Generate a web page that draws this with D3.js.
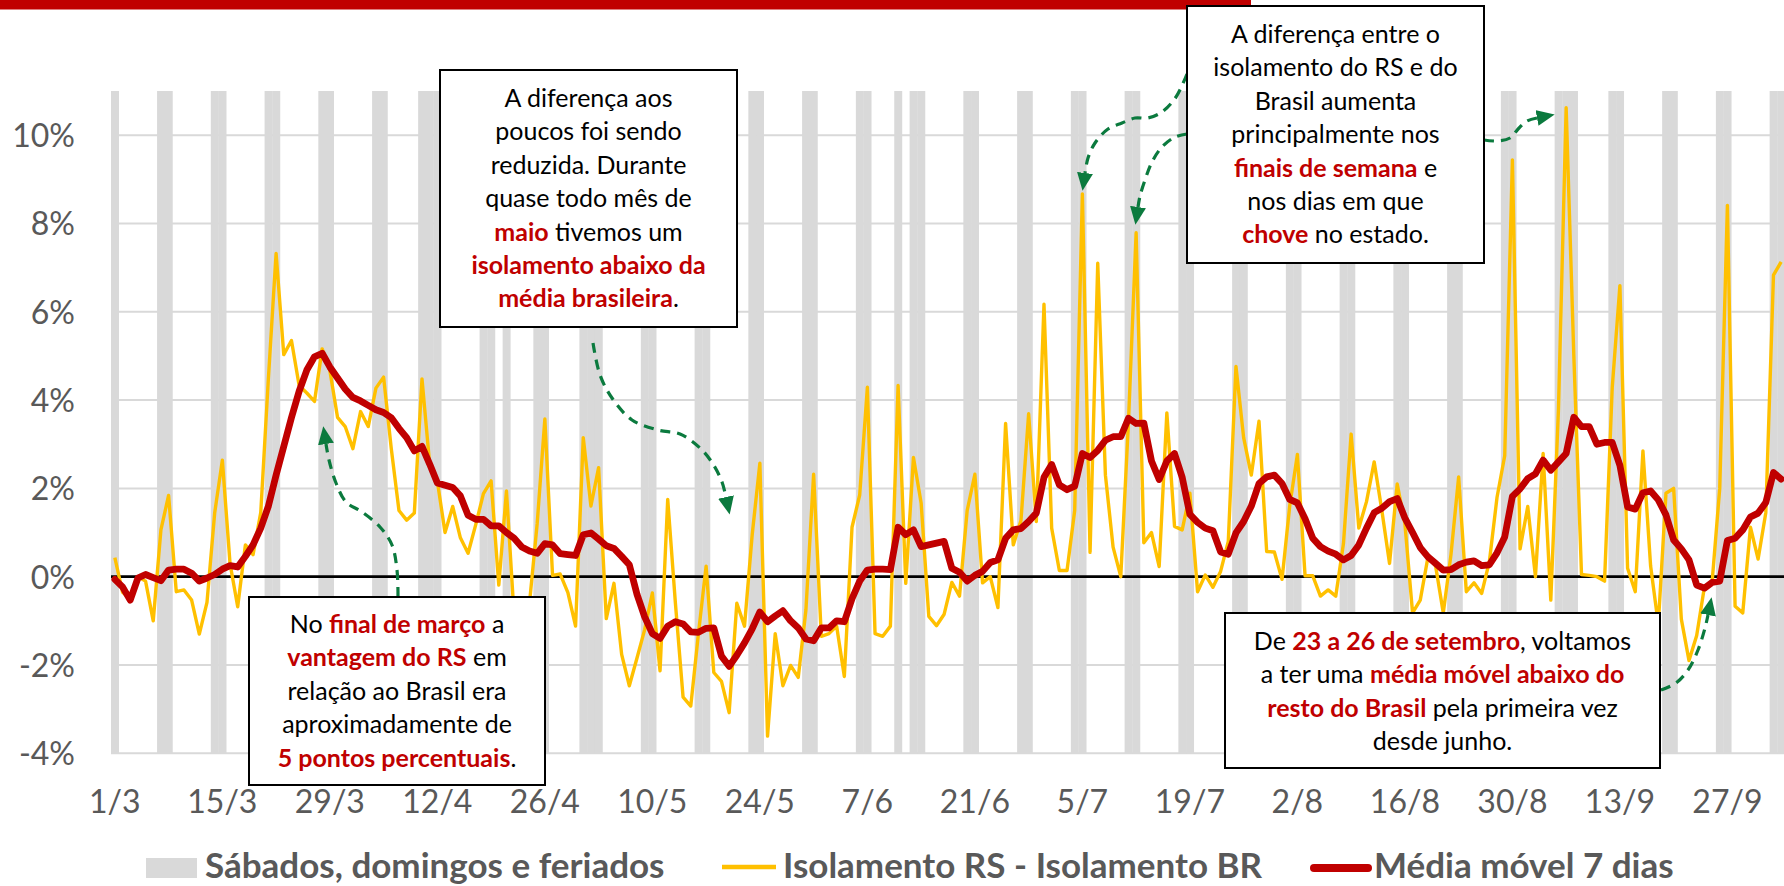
<!DOCTYPE html>
<html>
<head>
<meta charset="utf-8">
<script src="https://cdnjs.cloudflare.com/ajax/libs/d3/7.8.5/d3.min.js"></script>
<style>
  body { margin: 0; background: #fff; }
  svg { display: block; font-family: Lato, "Open Sans", sans-serif; }
</style>
</head>
<body>
<svg id="chart" width="1784" height="886"></svg>
<script>
const width = 1784;
const height = 886;

// categories: every day from 1/3 to 4/10 (2020)
const days = d3.timeDay.range(new Date(2020, 2, 1), new Date(2020, 9, 5)).map(d3.timeFormat("%-d/%-m"));

const tickLabels = ["1/3", "15/3", "29/3", "12/4", "26/4", "10/5", "24/5", "7/6", "21/6", "5/7", "19/7", "2/8", "16/8", "30/8", "13/9", "27/9"];
const yTicks = [-4, -2, 0, 2, 4, 6, 8, 10];

// weekends and holidays
const offDays = ["1/3", "7/3", "8/3", "14/3", "15/3", "21/3", "22/3", "28/3", "29/3", "4/4", "5/4", "10/4", "11/4", "12/4",
  "18/4", "19/4", "21/4", "25/4", "26/4", "1/5", "2/5", "3/5", "9/5", "10/5", "16/5", "17/5", "23/5", "24/5", "30/5", "31/5",
  "6/6", "7/6", "11/6", "13/6", "14/6", "20/6", "21/6", "27/6", "28/6", "4/7", "5/7", "11/7", "12/7", "18/7", "19/7",
  "25/7", "26/7", "1/8", "2/8", "8/8", "9/8", "15/8", "16/8", "22/8", "23/8", "29/8", "30/8", "5/9", "6/9", "7/9",
  "12/9", "13/9", "19/9", "20/9", "26/9", "27/9", "3/10", "4/10"];

// Isolamento RS - Isolamento BR (p.p.)
const diffRS = [
  0.43, -0.35, -0.5, 0.0, -0.1, -1.0, 1.06, 1.84, -0.34, -0.3, -0.53, -1.3, -0.58, 1.44, 2.64, 0.3, -0.68, 0.72, 0.5, 1.45,
  4.5, 7.32, 5.03, 5.35, 4.33, 4.16, 3.97, 5.16, 4.67, 3.61, 3.4, 2.9, 3.74, 3.4, 4.27, 4.52, 2.9, 1.5, 1.28, 1.44,
  4.48, 2.55, 2.16, 1.0, 1.59, 0.88, 0.53, 1.18, 1.88, 2.17, -0.19, 1.94, -0.9, -1.3, -0.6, 1.2, 3.57, 0.03, 0.06, -0.36,
  -1.12, 3.15, 1.6, 2.47, -0.95, -0.15, -1.76, -2.47, -1.84, -1.2, -0.37, -2.13, 1.75, -0.6, -2.73, -2.93, -1.29, 0.24, -2.17, -2.37,
  -3.08, -0.6, -1.12, 0.95, 2.57, -3.61, -1.29, -2.47, -2.01, -2.28, -0.75, 2.32, -1.35, -1.29, -1.12, -2.26, 1.12, 1.85, 4.29, -1.29,
  -1.35, -1.12, 4.33, -0.15, 2.7, 1.67, -0.9, -1.11, -0.85, -0.13, -0.44, 1.5, 2.32, -0.14, 0.0, -0.7, 3.47, 0.72, 1.27, 3.69,
  1.25, 6.17, 1.1, 0.14, 0.14, 1.5, 8.67, 0.55, 7.1, 2.3, 0.67, 0.0, 3.5, 7.79, 0.77, 1.0, 0.23, 3.71, 1.14, 1.06,
  1.89, -0.34, 0.04, -0.24, 0.12, 0.8, 4.76, 3.15, 2.3, 3.52, 0.57, 0.56, -0.06, 1.6, 2.77, 0.02, 0.02, -0.44, -0.3, -0.44,
  0.75, 3.23, 1.1, 1.7, 2.6, 1.5, 0.3, 2.1, 1.2, -0.82, -0.53, 0.44, 0.24, -0.82, 0.5, 2.26, -0.34, -0.14, -0.38, 0.34,
  1.8, 2.74, 9.44, 0.63, 1.59, 0.0, 2.79, -0.53, 3.8, 10.62, 5.0, 0.05, 0.03, 0.0, -0.1, 4.28, 6.59, 0.19, -0.34, 2.85,
  0.24, -1.08, 1.89, 2.0, -0.96, -1.9, -1.33, -0.24, -0.14, 2.0, 8.41, -0.67, -0.82, 1.12, 0.4, 1.45, 6.83, 7.13
];

// Média móvel 7 dias
const movingAvg = [
  -0.06, -0.23, -0.53, -0.03, 0.05, -0.02, -0.09, 0.15, 0.17, 0.17, 0.08, -0.1, -0.03, 0.05, 0.17, 0.25, 0.22, 0.46, 0.72, 1.1,
  1.6, 2.3, 2.95, 3.6, 4.2, 4.68, 4.98, 5.06, 4.75, 4.5, 4.25, 4.06, 3.98, 3.88, 3.78, 3.72, 3.6, 3.36, 3.15, 2.85,
  2.95, 2.55, 2.12, 2.07, 2.02, 1.83, 1.39, 1.3, 1.3, 1.15, 1.15, 1.0, 0.87, 0.67, 0.58, 0.53, 0.75, 0.72, 0.52, 0.5,
  0.48, 0.95, 0.99, 0.85, 0.7, 0.64, 0.46, 0.27, -0.4, -0.91, -1.29, -1.4, -1.12, -1.02, -1.07, -1.25, -1.26, -1.17, -1.16, -1.8,
  -2.03, -1.78, -1.5, -1.18, -0.8, -1.02, -0.89, -0.77, -1.0, -1.16, -1.41, -1.45, -1.16, -1.16, -1.0, -1.02, -0.5, -0.1, 0.15, 0.17,
  0.17, 0.16, 1.12, 0.95, 1.06, 0.68, 0.72, 0.76, 0.8, 0.19, 0.1, -0.1, 0.03, 0.12, 0.32, 0.38, 0.87, 1.06, 1.09, 1.25,
  1.44, 2.25, 2.54, 2.08, 1.97, 2.05, 2.79, 2.7, 2.86, 3.09, 3.17, 3.17, 3.59, 3.47, 3.48, 2.62, 2.2, 2.62, 2.79, 2.25,
  1.41, 1.23, 1.1, 1.04, 0.56, 0.51, 0.99, 1.25, 1.6, 2.11, 2.26, 2.3, 2.11, 1.75, 1.67, 1.31, 0.87, 0.68, 0.58, 0.51,
  0.38, 0.48, 0.72, 1.1, 1.45, 1.55, 1.7, 1.77, 1.33, 1.0, 0.66, 0.45, 0.3, 0.15, 0.16, 0.27, 0.33, 0.36, 0.25, 0.27,
  0.54, 0.9, 1.82, 1.99, 2.22, 2.33, 2.64, 2.41, 2.6, 2.79, 3.61, 3.4, 3.4, 3.0, 3.04, 3.04, 2.52, 1.58, 1.53, 1.9,
  1.94, 1.74, 1.4, 0.83, 0.63, 0.38, -0.19, -0.26, -0.13, -0.1, 0.82, 0.87, 1.06, 1.35, 1.44, 1.68, 2.36, 2.21
];

const red = "#C00000";
const yellow = "#FFC000";
const green = "#0B7A3E";
const grey = "#595959";

const plot = { left: 111, right: 1785, top: 91, bottom: 753.3 };

const svg = d3.select("#chart");

const xScale = d3.scaleBand()
  .domain(days)
  .range([plot.left, plot.right])
  .padding(0);

const yScale = d3.scaleLinear()
  .domain([-4, 11])
  .range([plot.bottom, plot.top]);

const cx = d => xScale(d) + xScale.bandwidth() / 2;

// top red strip
svg.append("rect")
  .attr("x", 0).attr("y", 0)
  .attr("width", 1251).attr("height", 9.5)
  .attr("fill", red);

// gridlines
svg.append("g")
  .selectAll("line")
  .data(yTicks)
  .enter()
  .append("line")
  .attr("x1", plot.left).attr("x2", plot.right)
  .attr("y1", d => yScale(d)).attr("y2", d => yScale(d))
  .attr("stroke", "#d9d9d9")
  .attr("stroke-width", 2);

// weekend / holiday columns
svg.append("g")
  .selectAll("rect")
  .data(days.filter(d => offDays.includes(d)))
  .enter()
  .append("rect")
  .attr("x", d => xScale(d))
  .attr("y", yScale(11))
  .attr("width", xScale.bandwidth() + 0.3)
  .attr("height", yScale(-4) - yScale(11))
  .attr("fill", "#d9d9d9");

// axes
const yAxis = svg.append("g")
  .attr("transform", `translate(${plot.left}, 0)`)
  .call(d3.axisLeft(yScale).tickValues(yTicks).tickFormat(d => d + "%").tickSize(0).tickPadding(36));
yAxis.select(".domain").remove();
yAxis.selectAll("text")
  .attr("fill", grey)
  .attr("font-family", "Lato")
  .attr("font-size", 32)
  .attr("dy", "0.36em");

const xAxis = svg.append("g")
  .attr("transform", `translate(0, ${plot.bottom})`)
  .call(d3.axisBottom(xScale).tickValues(tickLabels).tickSize(0).tickPadding(0));
xAxis.select(".domain").remove();
xAxis.selectAll("text")
  .attr("fill", grey)
  .attr("font-family", "Lato")
  .attr("font-size", 32)
  .attr("dy", 0)
  .attr("y", 60);

// zero line
svg.append("line")
  .attr("x1", plot.left).attr("x2", plot.right)
  .attr("y1", yScale(0)).attr("y2", yScale(0))
  .attr("stroke", "#000")
  .attr("stroke-width", 2.8);

// series
const line = values => d3.line()
  .x((d, i) => cx(days[i]))
  .y(d => yScale(d))(values);

svg.append("path")
  .attr("d", line(diffRS))
  .attr("fill", "none")
  .attr("stroke", yellow)
  .attr("stroke-width", 3.4)
  .attr("stroke-linejoin", "round");

svg.append("path")
  .attr("d", line(movingAvg))
  .attr("fill", "none")
  .attr("stroke", red)
  .attr("stroke-width", 6.8)
  .attr("stroke-linejoin", "round")
  .attr("stroke-linecap", "round");

// annotation arrows
svg.append("defs").append("marker")
  .attr("id", "head")
  .attr("markerUnits", "userSpaceOnUse")
  .attr("viewBox", "0 0 18 16")
  .attr("refX", 0).attr("refY", 8)
  .attr("markerWidth", 18).attr("markerHeight", 16)
  .attr("orient", "auto")
  .append("path")
  .attr("d", "M0,0 L18,8 L0,16 Z")
  .attr("fill", green);

const arrows = [
  [[398, 597], [397, 570], [392, 545], [380, 527], [362, 512], [346, 502], [336, 483], [329, 460], [326, 444]],
  [[593, 343], [600, 375], [612, 398], [632, 420], [658, 430], [680, 434], [700, 448], [713, 464], [722, 482], [726, 497]],
  [[1187, 74], [1176, 97], [1162, 112], [1148, 118], [1135, 118], [1122, 123], [1108, 129], [1095, 143], [1088, 158], [1085, 173]],
  [[1187, 134], [1175, 137], [1162, 147], [1152, 162], [1145, 180], [1140, 196], [1138, 207]],
  [[1484, 140], [1498, 141], [1510, 138], [1519, 128], [1527, 121], [1537, 118]],
  [[1661, 690], [1676, 683], [1688, 670], [1698, 650], [1705, 628], [1708, 615]]
];

svg.append("g")
  .selectAll("path")
  .data(arrows)
  .enter()
  .append("path")
  .attr("d", d3.line().curve(d3.curveCatmullRom))
  .attr("fill", "none")
  .attr("stroke", green)
  .attr("stroke-width", 3.2)
  .attr("stroke-dasharray", "10 7")
  .attr("marker-end", "url(#head)");

// annotation boxes
const boxes = [
  {
    x: 440, y: 70, w: 297, h: 257, y0: 107,
    lines: [
      [["A diferença aos"]],
      [["poucos foi sendo"]],
      [["reduzida. Durante"]],
      [["quase todo mês de"]],
      [["maio", 1], [" tivemos um"]],
      [["isolamento abaixo da", 1]],
      [["média brasileira", 1], ["."]]
    ]
  },
  {
    x: 249, y: 597, w: 296, h: 188, y0: 633,
    lines: [
      [["No "], ["final de março", 1], [" a"]],
      [["vantagem do RS", 1], [" em"]],
      [["relação ao Brasil era"]],
      [["aproximadamente de"]],
      [["5 pontos percentuais", 1], ["."]]
    ]
  },
  {
    x: 1187, y: 6, w: 297, h: 257, y0: 43,
    lines: [
      [["A diferença entre o"]],
      [["isolamento do RS e do"]],
      [["Brasil aumenta"]],
      [["principalmente nos"]],
      [["finais de semana", 1], [" e"]],
      [["nos dias em que"]],
      [["chove", 1], [" no estado."]]
    ]
  },
  {
    x: 1225, y: 613, w: 435, h: 155, y0: 650,
    lines: [
      [["De "], ["23 a 26 de setembro", 1], [", voltamos"]],
      [["a ter uma "], ["média móvel abaixo do", 1]],
      [["resto do Brasil", 1], [" pela primeira vez"]],
      [["desde junho."]]
    ]
  }
];

const box = svg.append("g")
  .selectAll("g")
  .data(boxes)
  .enter()
  .append("g");

box.append("rect")
  .attr("x", d => d.x).attr("y", d => d.y)
  .attr("width", d => d.w).attr("height", d => d.h)
  .attr("fill", "#fff")
  .attr("stroke", "#000")
  .attr("stroke-width", 2);

box.each(function (d) {
  const g = d3.select(this);
  d.lines.forEach((parts, i) => {
    const t = g.append("text")
      .attr("x", d.x + d.w / 2)
      .attr("y", d.y0 + i * 33.4)
      .attr("text-anchor", "middle")
      .attr("font-size", 25);
    parts.forEach(p => {
      t.append("tspan")
        .text(p[0])
        .attr("font-weight", p[1] ? 700 : 400)
        .attr("fill", p[1] ? red : "#000");
    });
  });
});

// legend
const legend = svg.append("g").attr("font-weight", 700).attr("font-size", 35).attr("fill", grey);

legend.append("rect")
  .attr("x", 146).attr("y", 858).attr("width", 51).attr("height", 20)
  .attr("fill", "#d9d9d9");
legend.append("text").attr("x", 205).attr("y", 878).text("Sábados, domingos e feriados");

legend.append("line")
  .attr("x1", 722).attr("x2", 776).attr("y1", 867).attr("y2", 867)
  .attr("stroke", yellow).attr("stroke-width", 4.5);
legend.append("text").attr("x", 783).attr("y", 878).text("Isolamento RS - Isolamento BR");

legend.append("line")
  .attr("x1", 1314).attr("x2", 1368).attr("y1", 868).attr("y2", 868)
  .attr("stroke", red).attr("stroke-width", 8).attr("stroke-linecap", "round");
legend.append("text").attr("x", 1374).attr("y", 878).text("Média móvel 7 dias");
</script>
</body>
</html>
